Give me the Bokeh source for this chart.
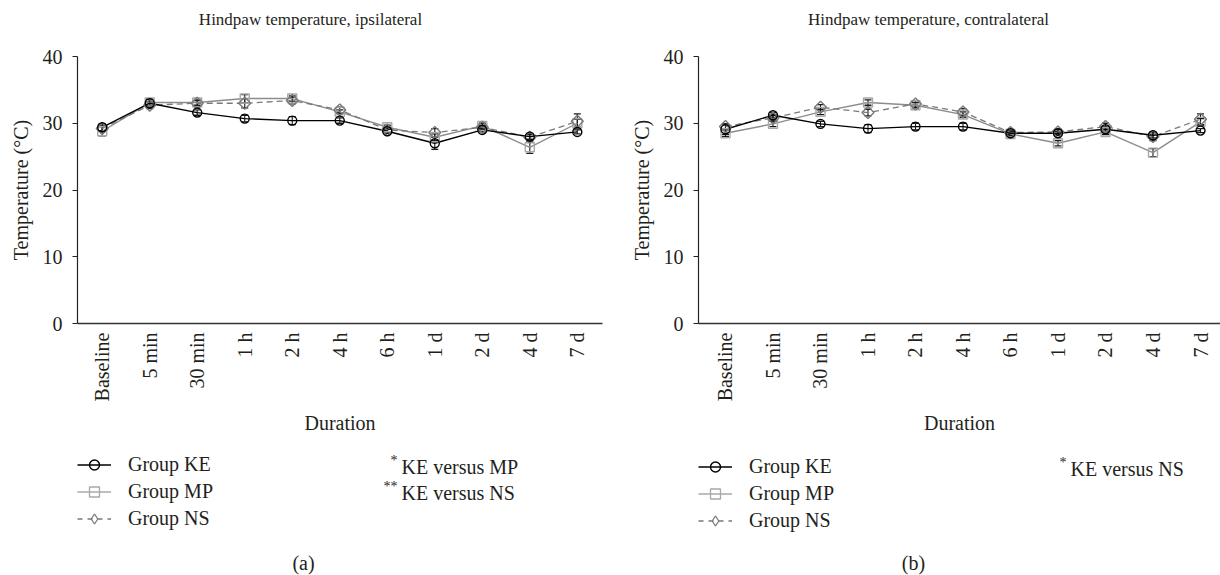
import math
from bokeh.plotting import figure
from bokeh.models import Range1d, FixedTicker, Label, Legend, LegendItem
from bokeh.layouts import row, column
from bokeh.embed import file_html
from bokeh.resources import INLINE

# ---------------- data ----------------
categories = ["Baseline", "5 min", "30 min", "1 h", "2 h", "4 h", "6 h", "1 d", "2 d", "4 d", "7 d"]
y_ticks = [0, 10, 20, 30, 40]

# ipsilateral (a)
ipsi_ke = [29.4, 33.0, 31.6, 30.7, 30.4, 30.4, 28.8, 27.0, 29.0, 28.0, 28.7]
ipsi_ke_err = [0.5, 0.6, 0.4, 0.5, 0.6, 0.4, 0.3, 0.9, 0.3, 0.4, 0.3]
ipsi_mp = [28.8, 33.1, 33.1, 33.7, 33.7, 31.7, 29.4, 27.9, 29.6, 26.4, 30.0]
ipsi_mp_err = [0.7, 0.5, 0.4, 0.6, 0.4, 0.3, 0.3, 0.5, 0.4, 0.9, 0.6]
ipsi_ns = [29.2, 32.7, 33.0, 33.0, 33.4, 32.0, 29.0, 28.6, 29.4, 27.9, 30.3]
ipsi_ns_err = [0.4, 0.5, 0.4, 0.7, 0.5, 0.4, 0.3, 0.6, 0.3, 0.4, 1.1]

# contralateral (b)
contra_ke = [29.1, 31.2, 29.9, 29.2, 29.5, 29.5, 28.5, 28.5, 29.1, 28.2, 28.9]
contra_ke_err = [0.8, 0.4, 0.4, 0.6, 0.5, 0.5, 0.3, 0.3, 0.4, 0.4, 0.3]
contra_mp = [28.5, 29.9, 31.7, 33.1, 32.7, 31.3, 28.4, 27.0, 28.7, 25.6, 30.2]
contra_mp_err = [0.5, 0.4, 0.4, 0.4, 0.4, 0.4, 0.3, 0.4, 0.4, 0.6, 0.5]
contra_ns = [29.5, 30.8, 32.4, 31.6, 32.9, 31.7, 28.6, 28.7, 29.5, 28.0, 30.6]
contra_ns_err = [0.4, 0.5, 0.4, 0.5, 0.5, 0.5, 0.3, 0.4, 0.5, 0.6, 0.8]

titles = ["Hindpaw temperature, ipsilateral", "Hindpaw temperature, contralateral"]
captions = ["(a)", "(b)"]
group_labels = ["Group KE", "Group MP", "Group NS"]
notes_a = [("*", "KE versus MP"), ("**", "KE versus NS")]
notes_b = [("*", "KE versus NS")]

# ---------------- styling ----------------
FONT = "'Liberation Serif', 'DejaVu Serif', serif"
TXT = "#231f20"
KE_COL = "#000000"
MP_LINE = "#8c8c8c"
MP_MARK = "#a8a8a8"
NS_COL = "#7a7a7a"
ERR_COL = "#1a1a1a"

W = 610          # width of each panel column
TOP_H = 40       # title strip   (page y 0..40)
MAIN_H = 400     # plot strip    (page y 40..440)
BOT_H = 135      # legend strip  (page y 440..575)

xs = list(range(len(categories)))


def strip(h, fl, fr, y_top):
    # the strip's frame is aligned with the plot frame; its ranges are page pixels
    s = figure(width=W, height=h, output_backend="svg", toolbar_location=None,
               x_range=Range1d(fl, fr), y_range=Range1d(y_top + h, y_top), title=None,
               x_axis_type=None, y_axis_type=None, min_border=0)
    s.outline_line_color = None
    s.grid.grid_line_color = None
    return s


def lbl(p, x, y, text, size="20px", align="left", baseline="middle"):
    p.add_layout(Label(x=x, y=y, text=text,
                       text_font=FONT, text_font_size=size, text_color=TXT,
                       text_align=align, text_baseline=baseline))


def build(ke, ke_e, mp, mp_e, ns, ns_e, fl, fr, bl, br, x0, x1, title, title_cx,
          caption, cap_cx, notes, note_x, note_ys, leg_top):
    # ---- title strip
    t = strip(TOP_H, fl, fr, 0)
    lbl(t, title_cx, 19, title, size="17px", align="center", baseline="alphabetic")

    # ---- main plot
    p = figure(width=W, height=MAIN_H, output_backend="svg", toolbar_location=None,
               x_range=Range1d(x0, x1), y_range=Range1d(0, 40), title=None,
               min_border_left=bl, min_border_right=br, min_border_top=16,
               min_border_bottom=117)
    p.outline_line_color = None
    p.grid.grid_line_color = None

    xa = p.xaxis[0]
    xa.ticker = FixedTicker(ticks=xs)
    xa.major_label_overrides = {i: c for i, c in zip(xs, categories)}
    xa.major_label_orientation = math.pi / 2
    xa.major_tick_line_color = None
    xa.major_tick_out = 0
    xa.major_tick_in = 0
    xa.minor_tick_line_color = None
    xa.major_label_standoff = 9
    xa.axis_label = "Duration"
    xa.axis_label_standoff = 8
    xa.axis_line_color = "#333333"
    xa.axis_line_width = 1.3
    ya = p.yaxis[0]
    ya.ticker = FixedTicker(ticks=y_ticks)
    ya.major_tick_out = 5
    ya.major_tick_in = 0
    ya.minor_tick_line_color = None
    ya.major_label_standoff = 10
    ya.axis_label = "Temperature (°C)"
    ya.axis_label_standoff = 8
    ya.axis_line_color = "#222222"
    ya.major_tick_line_color = "#222222"
    ya.axis_line_width = 1.2
    for ax in (xa, ya):
        ax.major_label_text_font = FONT
        ax.major_label_text_font_size = "20px"
        ax.major_label_text_color = TXT
        ax.axis_label_text_font = FONT
        ax.axis_label_text_font_size = "20px"
        ax.axis_label_text_font_style = "normal"
        ax.axis_label_text_color = TXT

    # error bars
    for vals, errs in ((mp, mp_e), (ns, ns_e), (ke, ke_e)):
        lo = [v - e for v, e in zip(vals, errs)]
        hi = [v + e for v, e in zip(vals, errs)]
        p.segment(x0=xs, y0=lo, x1=xs, y1=hi, line_color=ERR_COL, line_width=1.1)
        p.scatter(x=xs, y=lo, marker="dash", size=7, line_color=ERR_COL, line_width=1.3)
        p.scatter(x=xs, y=hi, marker="dash", size=7, line_color=ERR_COL, line_width=1.3)

    # series lines and markers
    p.line(xs, mp, line_color=MP_LINE, line_width=1.4)
    p.line(xs, ns, line_color=NS_COL, line_width=1.3, line_dash="6 4")
    p.line(xs, ke, line_color=KE_COL, line_width=1.4)
    p.scatter(xs, mp, marker="square", size=9, line_color=MP_MARK, line_width=1.4, fill_alpha=0)
    p.scatter(xs, ns, marker="square", angle=math.pi / 4, size=8.5, line_color=NS_COL,
              line_width=1.4, fill_alpha=0)
    p.scatter(xs, ke, marker="circle", size=9, line_color=KE_COL, line_width=1.4, fill_alpha=0)

    # ---- bottom strip: legend, notes, caption
    y_top = TOP_H + MAIN_H
    b = strip(BOT_H, fl, fr, y_top)
    far = [-5000.0]
    far2 = [-5000.0, -4990.0]
    ke_l = b.line(far2, far * 2, line_color=KE_COL, line_width=1.4)
    ke_m = b.scatter(far, far, marker="circle", line_color=KE_COL, line_width=1.4, fill_alpha=0)
    mp_l = b.line(far2, far * 2, line_color=MP_MARK, line_width=1.4)
    mp_m = b.scatter(far, far, marker="square", line_color=MP_MARK, line_width=1.3, fill_alpha=0)
    ns_l = b.line(far2, far * 2, line_color=NS_COL, line_width=1.3, line_dash="5 5")
    ns_m = b.scatter(far, far, marker="diamond", line_color=NS_COL, line_width=1.3,
                     fill_alpha=0)
    item_h = 25
    gap = 2
    leg_h = 3 * item_h + 2 * gap
    legend = Legend(items=[
        LegendItem(label=group_labels[0], renderers=[ke_l, ke_m]),
        LegendItem(label=group_labels[1], renderers=[mp_l, mp_m]),
        LegendItem(label=group_labels[2], renderers=[ns_l, ns_m]),
    ], location=(0, (y_top + BOT_H) - (leg_top + leg_h)))
    legend.glyph_width = 34
    legend.glyph_height = item_h
    legend.label_height = item_h
    legend.label_standoff = 17
    legend.spacing = gap
    legend.padding = 0
    legend.margin = 0
    legend.border_line_color = None
    legend.background_fill_alpha = 0
    legend.label_text_font = FONT
    legend.label_text_font_size = "20px"
    legend.label_text_color = TXT
    b.add_layout(legend, "center")

    for (star, txt), ny in zip(notes, note_ys):
        lbl(b, note_x - 4, ny - 6, star, size="14px", align="right")
        lbl(b, note_x, ny, txt, size="20px", align="left")
    lbl(b, cap_cx, 562, caption, size="20px", align="center")

    return column(t, p, b, spacing=0)


c1 = build(ipsi_ke, ipsi_ke_err, ipsi_mp, ipsi_mp_err, ipsi_ns, ipsi_ns_err,
           fl=77, fr=602, bl=77, br=8, x0=-0.52, x1=10.53,
           title=titles[0], title_cx=310, caption=captions[0], cap_cx=303,
           notes=notes_a, note_x=401, note_ys=[466, 492], leg_top=452)
c2 = build(contra_ke, contra_ke_err, contra_mp, contra_mp_err, contra_ns, contra_ns_err,
           fl=698, fr=1220, bl=88, br=0, x0=-0.568, x1=10.421,
           title=titles[1], title_cx=928, caption=captions[1], cap_cx=913,
           notes=notes_b, note_x=1070, note_ys=[468], leg_top=454)

layout = row(c1, c2, spacing=0)
open("out.html", "w").write(file_html(layout, INLINE))
